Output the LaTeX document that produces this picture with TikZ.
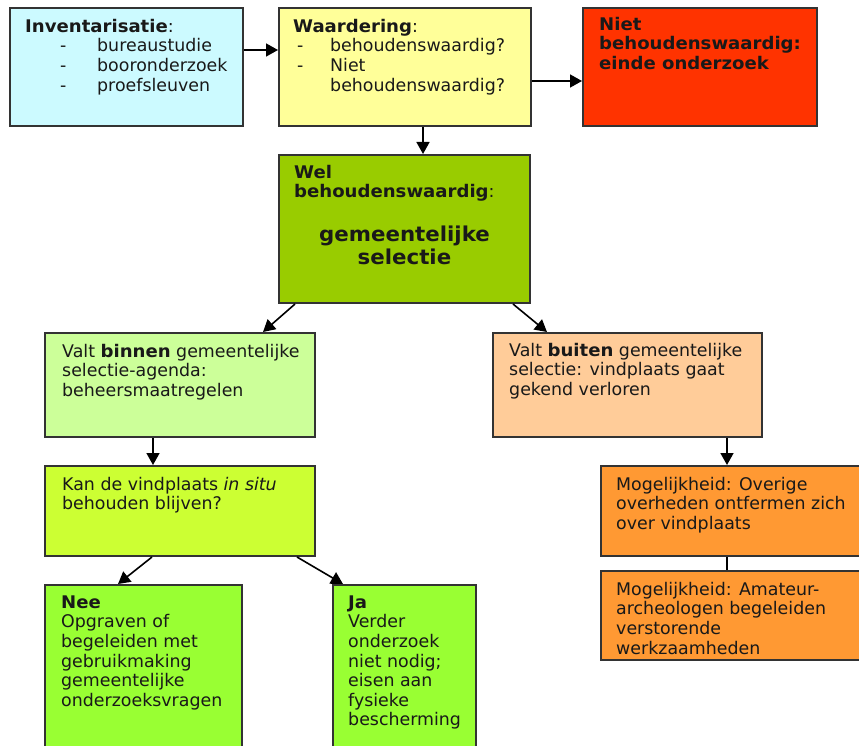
\documentclass[tikz,border=0pt]{standalone}
\usepackage{fontspec}
\setmainfont{DejaVu Sans}[BoldFeatures={FakeStretch=1.04}]
\usetikzlibrary{arrows.meta}
\definecolor{cInv}{HTML}{CCFAFF}
\definecolor{cWaard}{HTML}{FFFF99}
\definecolor{cNiet}{HTML}{FF3300}
\definecolor{cWel}{HTML}{99CC00}
\definecolor{cBinnen}{HTML}{CCFF99}
\definecolor{cBuiten}{HTML}{FFCC99}
\definecolor{cKan}{HTML}{CCFF33}
\definecolor{cOranje}{HTML}{FF9933}
\definecolor{cGroen}{HTML}{99FF33}
\begin{document}
\begin{tikzpicture}[x=1pt,y=-1pt,
  box/.style={draw=black!80, line width=2pt, rectangle, inner sep=0pt},
  txt/.style={anchor=north west, inner sep=0pt, align=left, font=\fontsize{17.4}{19.6}\selectfont, text=black!90},
  bigtxt/.style={anchor=north, inner sep=0pt, align=center, font=\fontsize{20.5}{23}\selectfont\bfseries, text=black!90},
  arr/.style={line width=1.6pt, draw=black, -{Triangle[length=12pt,width=13pt]}},
  plain/.style={line width=1.6pt, draw=black}
]
\useasboundingbox (0,0) rectangle (859,746);

% boxes
\node[box, fill=cInv, minimum width=233pt, minimum height=118pt] (inv) at (126.5,67) {};
\node[box, fill=cWaard, minimum width=252pt, minimum height=118pt] (waard) at (405,67) {};
\node[box, fill=cNiet, minimum width=234pt, minimum height=118pt] (niet) at (700,67) {};
\node[box, fill=cWel, minimum width=251pt, minimum height=148pt] (wel) at (404.5,229) {};
\node[box, fill=cBinnen, minimum width=270pt, minimum height=104pt] (binnen) at (180,385) {};
\node[box, fill=cBuiten, minimum width=269pt, minimum height=104pt] (buiten) at (627.5,385) {};
\node[box, fill=cKan, minimum width=270pt, minimum height=90pt] (kan) at (180,511) {};
\node[box, fill=cOranje, minimum width=262pt, minimum height=90pt] (over) at (732,511) {};
\node[box, fill=cOranje, minimum width=262pt, minimum height=89pt] (amat) at (732,615.5) {};
\node[box, fill=cGroen, minimum width=197pt, minimum height=175pt] (nee) at (143.5,672.5) {};
\node[box, fill=cGroen, minimum width=143pt, minimum height=175pt] (ja) at (404.5,672.5) {};

% texts
\node[txt] (tinv) at (25,18.4) {\strut\textbf{Inventarisatie}:\\
  \hspace*{35pt}\makebox[37pt][l]{-}bureaustudie\\
  \hspace*{35pt}\makebox[37pt][l]{-}booronderzoek\\
  \hspace*{35pt}\makebox[37pt][l]{-}proefsleuven};
\node[txt] (twaard) at (293,18.4) {\strut\textbf{Waardering}:\\
  \hspace*{4pt}\makebox[33pt][l]{-}behoudenswaardig?\\
  \hspace*{4pt}\makebox[33pt][l]{-}Niet\\
  \hspace*{37pt}behoudenswaardig?};
\node[txt, font=\fontsize{17.4}{19.6}\selectfont\bfseries] (tniet) at (599,16.4) {\strut Niet\\ behoudenswaardig:\\ einde onderzoek};
\node[txt] (twel) at (294,164.4) {\strut\textbf{Wel}\\ \textbf{behoudenswaardig}:};
\node[bigtxt] (tsel) at (404.5,225) {\strut gemeentelijke\\ selectie};
\node[txt] (tbinnen) at (62,343.4) {\strut Valt \textbf{binnen} gemeentelijke\\ selectie-agenda:\\ beheersmaatregelen};
\node[txt] (tbuiten) at (509,342.4) {\strut Valt \textbf{buiten} gemeentelijke\\ selectie: vindplaats gaat\\ gekend verloren};
\node[txt] (tkan) at (62,476.4) {\strut Kan de vindplaats \textit{in situ}\\ behouden blijven?};
\node[txt] (tover) at (616,476.4) {\strut Mogelijkheid: Overige\\ overheden ontfermen zich\\ over vindplaats};
\node[txt] (tamat) at (616,581.4) {\strut Mogelijkheid: Amateur-\\ archeologen begeleiden\\ verstorende\\ werkzaamheden};
\node[txt] (tnee) at (61,594.4) {\strut\textbf{Nee}\\ Opgraven of\\ begeleiden met\\ gebruikmaking\\ gemeentelijke\\ onderzoeksvragen};
\node[txt] (tja) at (348,594.4) {\strut\textbf{Ja}\\ Verder\\ onderzoek\\ niet nodig;\\ eisen aan\\ fysieke\\ bescherming};

% connectors
\draw[arr] ([yshift=17pt]inv.east) -- ([yshift=17pt]waard.west);
\draw[arr] ([yshift=-14pt]waard.east) -- ([yshift=-14pt]niet.west);
\draw[arr] ([xshift=18pt]waard.south) -- ([xshift=18.5pt]wel.north);
\draw[arr] ([xshift=-109.5pt]wel.south) -- ([xshift=83pt]binnen.north);
\draw[arr] ([xshift=108.5pt]wel.south) -- ([xshift=-80.5pt]buiten.north);
\draw[arr] ([xshift=-27pt]binnen.south) -- ([xshift=-27pt]kan.north);
\draw[arr] ([xshift=99.5pt]buiten.south) -- ([xshift=-5pt]over.north);
\draw[arr] ([xshift=-28pt]kan.south) -- ([xshift=-25.5pt]nee.north);
\draw[arr] ([xshift=117pt]kan.south) -- ([xshift=-61.5pt]ja.north);
\draw[plain] ([xshift=-5pt]over.south) -- ([xshift=-5pt]amat.north);
\end{tikzpicture}
\end{document}
